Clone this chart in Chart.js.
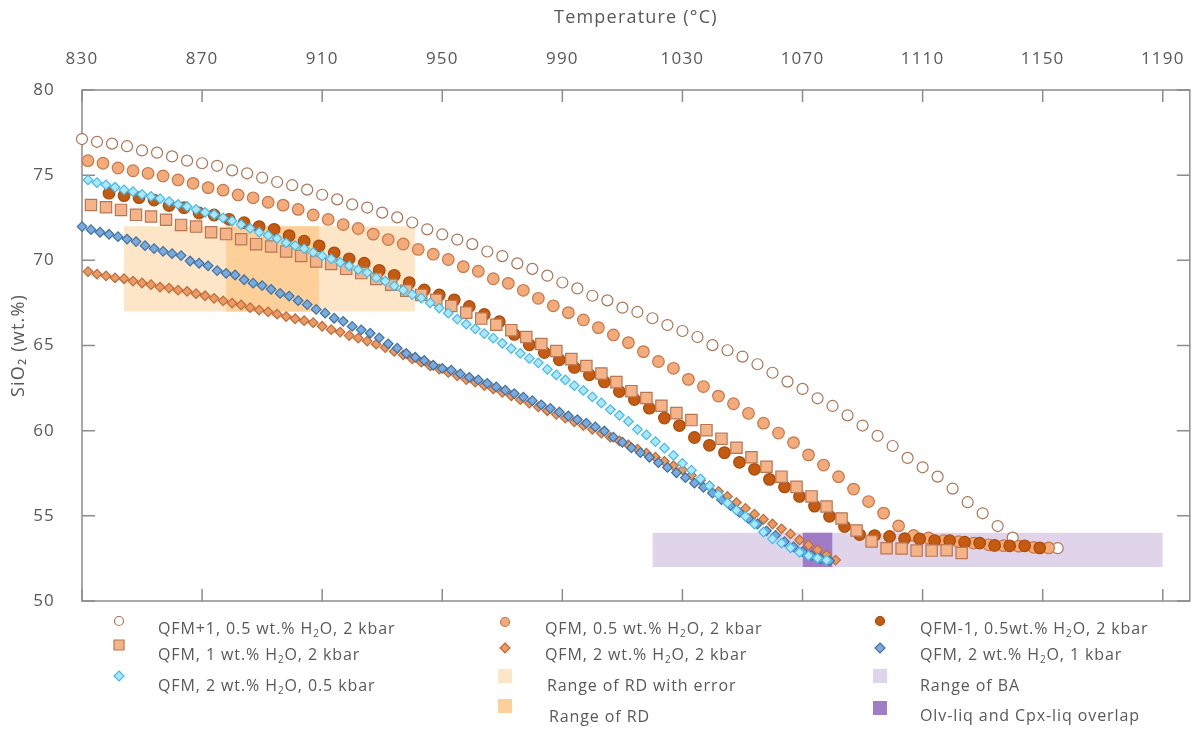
<!DOCTYPE html>
<html>
<head>
<meta charset="utf-8">
<script src="https://cdn.jsdelivr.net/npm/chart.js@4.4.1/dist/chart.umd.min.js"></script>
<style>
  body { margin: 0; background: #fff; }
  #wrap { position: relative; width: 1199px; height: 729px; font-family: "Open Sans", sans-serif; color: #595959; }
  #legend .txt { position: absolute; font-size: 16px; letter-spacing: 0.9px; white-space: nowrap; line-height: 20px; }
  #legend sub { font-size: 10px; vertical-align: -3px; line-height: 0; }
  #legend canvas { position: absolute; }
</style>
</head>
<body>
<div id="wrap">
  <canvas id="chart" width="1199" height="729"></canvas>
  <div id="legend"></div>
</div>
<script>
// axis ticks
var tempTicks = [830, 870, 910, 950, 990, 1030, 1070, 1110, 1150, 1190];
var sio2Ticks = [50, 55, 60, 65, 70, 75, 80];

// QFM+1, 0.5 wt.% H2O, 2 kbar
var qfmP1T = [830,835,840,845,850,855,860,865,870,875,880,885,890,895,900,905,910,915,920,925,930,935,940,945,950,955,960,965,970,975,980,985,990,995,1000,1005,1010,1015,1020,1025,1030,1035,1040,1045,1050,1055,1060,1065,1070,1075,1080,1085,1090,1095,1100,1105,1110,1115,1120,1125,1130,1135,1140,1155];
var qfmP1Si = [77.12,76.96,76.85,76.70,76.45,76.32,76.10,75.85,75.70,75.55,75.28,75.11,74.85,74.60,74.41,74.15,73.85,73.58,73.28,73.10,72.80,72.52,72.22,71.82,71.52,71.22,70.95,70.52,70.25,69.82,69.50,69.10,68.70,68.35,67.92,67.65,67.22,66.97,66.60,66.20,65.85,65.50,65.02,64.72,64.35,63.90,63.40,62.88,62.45,61.90,61.45,60.90,60.30,59.70,59.10,58.40,57.85,57.30,56.60,55.80,55.15,54.40,53.72,53.10];

// QFM, 0.5 wt.% H2O, 2 kbar
var qfm05T = [832,837,842,847,852,857,862,867,872,877,882,887,892,897,902,907,912,917,922,927,932,937,942,947,952,957,962,967,972,977,982,987,992,997,1002,1007,1012,1017,1022,1027,1032,1037,1042,1047,1052,1057,1062,1067,1072,1077,1082,1087,1092,1097,1102,1107,1112,1117,1122,1127,1132,1137,1142,1147,1152];
var qfm05Si = [75.85,75.70,75.42,75.26,75.11,74.95,74.72,74.52,74.27,74.12,73.84,73.67,73.41,73.24,72.99,72.66,72.40,72.10,71.87,71.54,71.22,70.96,70.64,70.36,70.05,69.63,69.36,68.92,68.65,68.24,67.77,67.33,66.93,66.50,66.05,65.62,65.17,64.64,64.06,63.66,63.01,62.59,62.03,61.58,61.02,60.44,59.86,59.30,58.58,57.98,57.30,56.57,55.84,55.16,54.41,53.85,53.70,53.55,53.48,53.40,53.30,53.25,53.22,53.15,53.12];

// QFM-1, 0.5 wt.% H2O, 2 kbar
var qfmM1T = [839,844,849,854,859,864,869,874,879,884,889,894,899,904,909,914,919,924,929,934,939,944,949,954,959,964,969,974,979,984,989,994,999,1004,1009,1014,1019,1024,1029,1034,1039,1044,1049,1054,1059,1064,1069,1074,1079,1084,1089,1094,1099,1104,1109,1114,1119,1124,1129,1134,1139,1144,1149];
var qfmM1Si = [73.94,73.80,73.68,73.54,73.22,73.09,72.78,72.66,72.41,72.21,71.98,71.82,71.45,71.12,70.85,70.44,70.09,69.83,69.41,69.12,68.69,68.26,67.97,67.68,67.29,66.82,66.40,65.65,65.04,64.59,64.16,63.71,63.28,62.86,62.30,61.83,61.32,60.74,60.30,59.60,59.14,58.71,58.14,57.73,57.14,56.70,56.14,55.57,54.97,54.37,53.90,53.84,53.79,53.66,53.64,53.55,53.55,53.45,53.40,53.26,53.24,53.24,53.12];

// QFM, 1 wt.% H2O, 2 kbar
var qfm1wT = [833,838,843,848,853,858,863,868,873,878,883,888,893,898,903,908,913,918,923,928,933,938,943,948,953,958,963,968,973,978,983,988,993,998,1003,1008,1013,1018,1023,1028,1033,1038,1043,1048,1053,1058,1063,1068,1073,1078,1083,1088,1093,1098,1103,1108,1113,1118,1123];
var qfm1wSi = [73.25,73.12,72.96,72.67,72.57,72.38,72.08,71.98,71.65,71.54,71.24,70.95,70.81,70.52,70.26,69.93,69.79,69.50,69.25,68.91,68.57,68.22,67.97,67.68,67.32,66.93,66.58,66.22,65.90,65.50,65.09,64.68,64.20,63.79,63.36,62.85,62.32,61.92,61.46,61.03,60.62,60.03,59.53,59.00,58.44,57.88,57.30,56.70,56.14,55.55,54.84,54.14,53.50,53.10,53.08,52.96,52.96,52.98,52.82];

// QFM, 2 wt.% H2O, 2 kbar
var qfm2w2kT = [832,835,838,841,844,847,850,853,856,859,862,865,868,871,874,877,880,883,886,889,892,895,898,901,904,907,910,913,916,919,922,925,928,931,934,937,940,943,946,949,952,955,958,961,964,967,970,973,976,979,982,985,988,991,994,997,1000,1003,1006,1009,1012,1015,1018,1021,1024,1027,1030,1033,1036,1039,1042,1045,1048,1051,1054,1057,1060,1063,1066,1069,1072,1075,1078,1081];
var qfm2w2kSi = [69.34,69.19,69.09,68.97,68.92,68.78,68.67,68.57,68.43,68.37,68.25,68.18,68.04,67.92,67.77,67.62,67.49,67.38,67.22,67.08,66.98,66.84,66.70,66.57,66.46,66.34,66.13,65.93,65.79,65.58,65.43,65.26,65.08,64.88,64.65,64.45,64.22,64.02,63.80,63.62,63.42,63.22,63.00,62.85,62.65,62.45,62.25,62.05,61.82,61.62,61.40,61.17,60.96,60.74,60.52,60.30,60.08,59.86,59.62,59.40,59.16,58.92,58.68,58.44,58.20,57.94,57.70,57.38,57.08,56.76,56.44,56.14,55.78,55.44,55.10,54.80,54.52,54.24,53.94,53.58,53.28,53.00,52.70,52.40];

// QFM, 2 wt.% H2O, 1 kbar
var qfm2w1kT = [830,833,836,839,842,845,848,851,854,857,860,863,866,869,872,875,878,881,884,887,890,893,896,899,902,905,908,911,914,917,920,923,926,929,932,935,938,941,944,947,950,953,956,959,962,965,968,971,974,977,980,983,986,989,992,995,998,1001,1004,1007,1010,1013,1016,1019,1022,1025,1028,1031,1034,1037,1040,1043,1046,1049,1052,1055,1058,1061,1064,1067,1070,1073,1076,1079];
var qfm2w1kSi = [71.98,71.80,71.65,71.53,71.39,71.25,71.10,70.86,70.69,70.53,70.39,70.28,69.96,69.83,69.68,69.40,69.24,69.14,68.86,68.66,68.52,68.30,68.06,67.90,67.64,67.40,67.12,66.90,66.60,66.42,66.12,65.92,65.72,65.45,65.10,64.84,64.53,64.31,64.12,63.84,63.66,63.55,63.33,63.13,62.98,62.78,62.57,62.38,62.18,61.97,61.76,61.52,61.31,61.09,60.86,60.65,60.44,60.22,59.98,59.62,59.32,58.99,58.71,58.44,58.12,57.84,57.53,57.24,56.92,56.67,56.34,55.95,55.60,55.20,54.84,54.52,54.12,53.85,53.48,53.18,52.90,52.66,52.48,52.36];

// QFM, 2 wt.% H2O, 0.5 kbar
var qfm2w05kT = [832,835,838,841,844,847,850,853,856,859,862,865,868,871,874,877,880,883,886,889,892,895,898,901,904,907,910,913,916,919,922,925,928,931,934,937,940,943,946,949,952,955,958,961,964,967,970,973,976,979,982,985,988,991,994,997,1000,1003,1006,1009,1012,1015,1018,1021,1024,1027,1030,1033,1036,1039,1042,1045,1048,1051,1054,1057,1060,1063,1066,1069,1072,1075,1078];
var qfm2w05kSi = [74.72,74.56,74.43,74.29,74.14,74.03,73.87,73.75,73.62,73.45,73.28,73.16,72.99,72.82,72.69,72.49,72.31,72.10,71.88,71.66,71.47,71.28,71.03,70.86,70.69,70.47,70.26,70.09,69.88,69.67,69.45,69.28,68.97,68.78,68.50,68.25,67.99,67.79,67.50,67.20,66.90,66.55,66.25,65.98,65.70,65.43,65.13,64.82,64.54,64.24,63.98,63.60,63.27,62.98,62.64,62.36,61.98,61.63,61.24,60.90,60.54,60.08,59.75,59.36,58.97,58.55,58.08,57.68,57.17,56.76,56.25,55.76,55.33,54.97,54.52,54.05,53.65,53.40,53.12,52.86,52.66,52.52,52.40];

// shaded ranges: [T from, T to] and [SiO2 from, SiO2 to]
var rdErrT = [844, 941], rdErrSi = [67, 72];
var rdT = [878, 909], rdSi = [67, 72];
var baT = [1020, 1190], baSi = [52, 54];
var overlapT = [1070, 1080], overlapSi = [52, 54];

var txtColor = '#595959';
Chart.defaults.font.family = '"Open Sans", sans-serif';
Chart.defaults.color = txtColor;

function pts(ts, vs) {
    return ts.map(function(t, i) { return {x: t, y: vs[i]}; });
}

function series(label, ts, vs, style, fill, border, radius, order) {
    return {
        label: label, data: pts(ts, vs), showLine: false,
        pointStyle: style, pointRadius: radius, pointBackgroundColor: fill,
        pointBorderColor: border, pointBorderWidth: 1.2, order: order, clip: false
    };
}

function range(label, ts, vs, color, order) {
    return {
        type: 'line', label: label, isRange: true,
        data: [{x: ts[0], y: vs[1]}, {x: ts[1], y: vs[1]}],
        fill: {value: vs[0]}, backgroundColor: color, borderWidth: 0,
        pointRadius: 0, order: order
    };
}

var datasets = [
    series('QFM+1, 0.5 wt.% H₂O, 2 kbar', qfmP1T, qfmP1Si, 'circle', '#ffffff', '#ad7355', 5.5, 7),
    series('QFM, 0.5 wt.% H₂O, 2 kbar', qfm05T, qfm05Si, 'circle', '#f3ab7a', '#c8774a', 5.8, 6),
    series('QFM-1, 0.5wt.% H₂O, 2 kbar', qfmM1T, qfmM1Si, 'circle', '#c55a11', '#a84b0c', 5.8, 5),
    series('QFM, 1 wt.% H₂O, 2 kbar', qfm1wT, qfm1wSi, 'rect', '#f5b38a', '#b97650', 8, 4),
    series('QFM, 2 wt.% H₂O, 2 kbar', qfm2w2kT, qfm2w2kSi, 'rectRot', '#ec9a63', '#c06a38', 4.8, 3),
    series('QFM, 2 wt.% H₂O, 1 kbar', qfm2w1kT, qfm2w1kSi, 'rectRot', '#78ace0', '#41709f', 4.8, 2),
    series('QFM, 2 wt.% H₂O, 0.5 kbar', qfm2w05kT, qfm2w05kSi, 'rectRot', '#ade6fa', '#3fbceb', 4.8, 1),
    range('Range of RD with error', rdErrT, rdErrSi, '#fde6c8', 13),
    range('Range of BA', baT, baSi, '#e0d4eb', 12),
    range('Range of RD', rdT, rdSi, '#fcd098', 11),
    range('Olv-liq and Cpx-liq overlap', overlapT, overlapSi, '#a17cc6', 10)
];

// frame with inward tick marks on all four sides
var boxFrame = {
    id: 'boxFrame',
    beforeDraw: function(chart) { chart.ctx.letterSpacing = '1.2px'; },
    beforeDatasetsDraw: function(chart) {
        var ctx = chart.ctx, a = chart.chartArea, x = chart.scales.x, y = chart.scales.y;
        ctx.save();
        ctx.strokeStyle = '#8c8c8c';
        ctx.lineWidth = 1.5;
        ctx.strokeRect(a.left, a.top, a.right - a.left, a.bottom - a.top);
        ctx.beginPath();
        x.ticks.forEach(function(t) {
            var px = x.getPixelForValue(t.value);
            ctx.moveTo(px, a.top); ctx.lineTo(px, a.top + 12);
            ctx.moveTo(px, a.bottom); ctx.lineTo(px, a.bottom - 12);
        });
        y.ticks.forEach(function(t) {
            var py = y.getPixelForValue(t.value);
            ctx.moveTo(a.left, py); ctx.lineTo(a.left + 13, py);
            ctx.moveTo(a.right, py); ctx.lineTo(a.right - 13, py);
        });
        ctx.stroke();
        ctx.restore();
    }
};

var chart = new Chart(document.getElementById('chart'), {
    type: 'scatter',
    data: {datasets: datasets},
    plugins: [boxFrame],
    options: {
        responsive: false,
        animation: false,
        events: [],
        layout: {padding: {left: 0, right: 5, top: 0, bottom: 128}},
        plugins: {legend: {display: false}, tooltip: {enabled: false}},
        scales: {
            x: {
                type: 'linear', position: 'top', min: 830, max: 1199,
                afterBuildTicks: function(axis) { axis.ticks = tempTicks.map(function(v) { return {value: v}; }); },
                afterFit: function(axis) { axis.height = 90; },
                grid: {display: false}, border: {display: false},
                ticks: {color: txtColor, font: {size: 17}, padding: 13, maxRotation: 0,
                        callback: function(v) { return String(v); }},
                title: {display: true, text: 'Temperature (°C)', color: txtColor, font: {size: 18}, padding: {top: 7}}
            },
            y: {
                type: 'linear', position: 'left', min: 50, max: 80,
                afterBuildTicks: function(axis) { axis.ticks = sio2Ticks.map(function(v) { return {value: v}; }); },
                afterFit: function(axis) { axis.width = 82; },
                grid: {display: false}, border: {display: false},
                ticks: {color: txtColor, font: {size: 17}, padding: 19},
                title: {display: true, text: 'SiO₂ (wt.%)', color: txtColor, font: {size: 18}, padding: {top: 8}}
            }
        }
    }
});

// legend laid out in three columns like the original
var legendSlots = [
    {ds: 0, mx: 119, my: 621, tx: 158, ty: 628},
    {ds: 1, mx: 505, my: 622, tx: 545, ty: 628},
    {ds: 2, mx: 880, my: 621, tx: 920, ty: 628},
    {ds: 3, mx: 119, my: 645, tx: 158, ty: 654},
    {ds: 4, mx: 505, my: 648, tx: 545, ty: 654},
    {ds: 5, mx: 880, my: 648, tx: 920, ty: 654},
    {ds: 6, mx: 119, my: 676, tx: 158, ty: 685},
    {ds: 7, mx: 505, my: 676, tx: 547, ty: 685},
    {ds: 8, mx: 880, my: 676, tx: 920, ty: 685},
    {ds: 9, mx: 505, my: 706, tx: 549, ty: 716},
    {ds: 10, mx: 880, my: 708, tx: 920, ty: 715}
];

var legendBox = document.getElementById('legend');
legendSlots.forEach(function(s) {
    var ds = chart.data.datasets[s.ds];
    var cv = document.createElement('canvas');
    cv.width = 20; cv.height = 20;
    cv.style.left = (s.mx - 10) + 'px';
    cv.style.top = (s.my - 10) + 'px';
    var c = cv.getContext('2d');
    if (ds.isRange) {
        c.fillStyle = ds.backgroundColor;
        c.fillRect(3, 3, 14, 14);
    } else {
        c.fillStyle = ds.pointBackgroundColor;
        c.strokeStyle = ds.pointBorderColor;
        c.lineWidth = 1.2;
        c.beginPath();
        if (ds.pointStyle === 'circle') c.arc(10, 10, 4.5, 0, Math.PI * 2);
        else if (ds.pointStyle === 'rect') c.rect(5, 5, 10, 10);
        else { c.moveTo(10, 5); c.lineTo(15, 10); c.lineTo(10, 15); c.lineTo(5, 10); c.closePath(); }
        c.fill(); c.stroke();
    }
    legendBox.appendChild(cv);
    var t = document.createElement('div');
    t.className = 'txt';
    t.style.left = s.tx + 'px';
    t.style.top = (s.ty - 10) + 'px';
    t.innerHTML = ds.label.replace('₂', '<sub>2</sub>');
    legendBox.appendChild(t);
});
</script>
</body>
</html>
